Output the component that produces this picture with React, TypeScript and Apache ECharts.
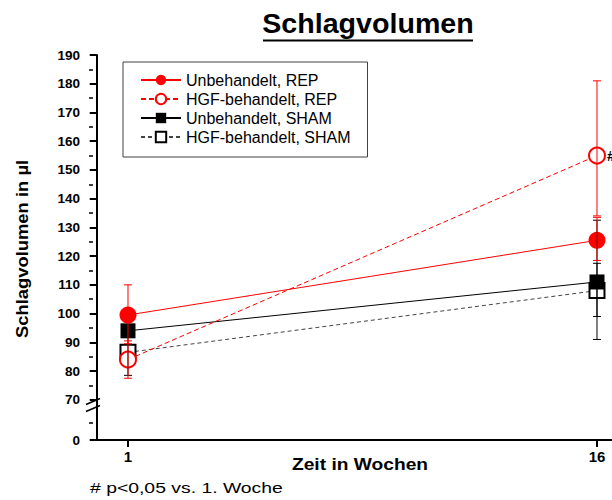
import { useEffect, useRef } from "react";
import * as echarts from "echarts";

// ---- data ----
const weeks = [1, 16];
const seriesNames = [
  "Unbehandelt, REP",
  "HGF-behandelt, REP",
  "Unbehandelt, SHAM",
  "HGF-behandelt, SHAM",
];
const unbehREP = [99.5, 125.5];
const unbehREPLow = [89.5, 118.5];
const unbehREPHigh = [110, 133.5];
const hgfREP = [84, 155];
const hgfREPLow = [77.5, 134];
const hgfREPHigh = [90.5, 181];
const unbehSHAM = [94, 111];
const unbehSHAMLow = [92, 91];
const unbehSHAMHigh = [96, 132.5];
const hgfSHAM = [86.5, 108];
const hgfSHAMLow = [78.5, 99];
const hgfSHAMHigh = [94.5, 117.5];
const yTickValues = [0, 70, 80, 90, 100, 110, 120, 130, 140, 150, 160, 170, 180, 190];
const yMinorTickValues = [30, 75, 85, 95, 105, 115, 125, 135, 145, 155, 165, 175, 185];
const xTickValues = [1, 16];
const breakValue = 61;
const sigMark = "#";
const titleText = "Schlagvolumen";
const yName = "Schlagvolumen in µl";
const xName = "Zeit in Wochen";
const footnote = "# p<0,05 vs. 1. Woche";

// broken axis: 0..70 compressed
const toAxis = (v: number) => (v < 70 ? v * 0.2 : v - 56);
const fromAxis = (d: number) => (d < 14 ? d / 0.2 : d + 56);

const FONT = "'Liberation Sans', Arial, sans-serif";
const X_MIN = -0.119;
const X_MAX = 16.48;

function errSeries(name: string, low: number[], high: number[], color: string) {
  return {
    name,
    type: "custom",
    z: 5,
    clip: false,
    silent: true,
    data: weeks.map((w, i) => [w, toAxis(low[i]), toAxis(high[i])]),
    renderItem: (_p: any, api: any) => {
      const x = api.value(0);
      const lo = api.coord([x, api.value(1)]);
      const hi = api.coord([x, api.value(2)]);
      const c = 4;
      const st = { stroke: color, lineWidth: 1 };
      return {
        type: "group",
        children: [
          { type: "line", shape: { x1: lo[0], y1: lo[1], x2: hi[0], y2: hi[1] }, style: st },
          { type: "line", shape: { x1: lo[0] - c, y1: lo[1], x2: lo[0] + c, y2: lo[1] }, style: st },
          { type: "line", shape: { x1: hi[0] - c, y1: hi[1], x2: hi[0] + c, y2: hi[1] }, style: st },
        ],
      };
    },
  };
}

export default function App() {
  const ref = useRef<HTMLDivElement>(null);
  useEffect(() => {
    document.body.style.margin = "0";
    if (!ref.current) return;
    const chart = echarts.init(ref.current, null, { renderer: "svg" });
    const pts = (vals: number[]) => weeks.map((w, i) => [w, toAxis(vals[i])]);
    chart.setOption({
      animation: false,
      backgroundColor: "#fff",
      textStyle: { fontFamily: FONT },
      grid: { left: 93, right: 0, top: 55, bottom: 60 },
      legend: {
        orient: "vertical",
        left: 123,
        top: 62,
        padding: [10, 17, 12, 17],
        itemWidth: 40,
        itemHeight: 13,
        itemGap: 3,
        borderColor: "#404040",
        borderWidth: 1,
        backgroundColor: "#fff",
        textStyle: { fontSize: 16, fontFamily: FONT, color: "#000", lineHeight: 16 },
        data: seriesNames,
      },
      xAxis: {
        type: "value",
        min: X_MIN,
        max: X_MAX,
        splitLine: { show: false },
        axisLine: { lineStyle: { color: "#000", width: 2 } },
        axisTick: { customValues: xTickValues, length: 7, lineStyle: { color: "#000", width: 2 } },
        axisLabel: {
          customValues: xTickValues,
          fontSize: 15,
          fontWeight: "bold",
          color: "#000",
          margin: 9,
          fontFamily: FONT,
        },
      },
      yAxis: [
        {
          type: "value",
          position: "left",
          min: 0,
          max: toAxis(190),
          splitLine: { show: false },
          axisLine: { show: true, lineStyle: { color: "#000", width: 2 } },
          axisTick: {
            customValues: yTickValues.map(toAxis),
            length: 7,
            lineStyle: { color: "#000", width: 2 },
          },
          axisLabel: {
            customValues: yTickValues.map(toAxis),
            formatter: (d: number) => String(Math.round(fromAxis(d))),
            fontSize: 13.5,
            fontWeight: "bold",
            color: "#000",
            margin: 13,
            fontFamily: FONT,
          },
        },
        {
          type: "value",
          position: "left",
          offset: 0,
          min: 0,
          max: toAxis(190),
          splitLine: { show: false },
          axisLine: { show: false },
          axisLabel: { show: false },
          axisTick: {
            customValues: yMinorTickValues.map(toAxis),
            length: 4,
            lineStyle: { color: "#000", width: 1.5 },
          },
        },
      ],
      series: [
        {
          name: seriesNames[3],
          type: "line",
          data: pts(hgfSHAM),
          symbol: "emptyRect",
          symbolSize: 15,
          itemStyle: { color: "#000", borderWidth: 1.5 },
          lineStyle: { color: "#444", width: 1, type: [4, 3] },
          silent: true,
        },
        {
          name: seriesNames[2],
          type: "line",
          data: pts(unbehSHAM),
          symbol: "rect",
          symbolSize: 15,
          itemStyle: { color: "#000" },
          lineStyle: { color: "#000", width: 1 },
          silent: true,
        },
        {
          name: seriesNames[1],
          type: "line",
          data: pts(hgfREP).map((p, i) =>
            i === 1
              ? {
                  value: p,
                  label: {
                    show: true,
                    position: "right",
                    distance: 1,
                    formatter: sigMark,
                    fontSize: 15,
                    fontWeight: "bold",
                    color: "#000",
                  },
                }
              : p
          ),
          symbol: "emptyCircle",
          symbolSize: 16,
          itemStyle: { color: "#f00", borderWidth: 1.5 },
          lineStyle: { color: "#f00", width: 1, type: [5, 3] },
          silent: true,
        },
        {
          name: seriesNames[0],
          type: "line",
          data: pts(unbehREP),
          symbol: "circle",
          symbolSize: 17,
          itemStyle: { color: "#f00" },
          lineStyle: { color: "#f00", width: 1 },
          silent: true,
        },
        errSeries("err3", hgfSHAMLow, hgfSHAMHigh, "#000"),
        errSeries("err2", unbehSHAMLow, unbehSHAMHigh, "#000"),
        errSeries("err1", hgfREPLow, hgfREPHigh, "#f00"),
        errSeries("err0", unbehREPLow, unbehREPHigh, "#f00"),
        {
          name: "axisBreak",
          type: "custom",
          z: 6,
          clip: false,
          silent: true,
          data: [[X_MIN, toAxis(breakValue)]],
          renderItem: (_p: any, api: any) => {
            const p = api.coord([api.value(0), api.value(1)]);
            const x = p[0];
            const y = p[1];
            const st = { stroke: "#000", lineWidth: 1.5 };
            return {
              type: "group",
              children: [
                { type: "rect", shape: { x: x - 2, y: y - 3.5, width: 4, height: 7 }, style: { fill: "#fff" } },
                { type: "line", shape: { x1: x - 7, y1: y - 0.5, x2: x + 7, y2: y - 6.5 }, style: st },
                { type: "line", shape: { x1: x - 7, y1: y + 6.5, x2: x + 7, y2: y + 0.5 }, style: st },
              ],
            };
          },
        },
      ],
      graphic: [
        {
          type: "text",
          x: 368,
          y: 24,
          scaleX: 1.06,
          style: {
            text: titleText,
            fontSize: 27,
            fontWeight: "bold",
            fontFamily: FONT,
            fill: "#000",
            align: "center",
            verticalAlign: "middle",
          },
        },
        {
          type: "line",
          shape: { x1: 263, y1: 40.5, x2: 473, y2: 40.5 },
          style: { stroke: "#000", lineWidth: 2 },
        },
        {
          type: "text",
          x: 360,
          y: 465,
          scaleX: 1.2,
          style: {
            text: xName,
            fontSize: 16,
            fontWeight: "bold",
            fontFamily: FONT,
            fill: "#000",
            align: "center",
            verticalAlign: "middle",
          },
        },
        {
          type: "text",
          x: 22,
          y: 249,
          rotation: Math.PI / 2,
          scaleX: 1.15,
          style: {
            text: yName,
            fontSize: 16,
            fontWeight: "bold",
            fontFamily: FONT,
            fill: "#000",
            align: "center",
            verticalAlign: "middle",
          },
        },
        {
          type: "text",
          x: 90,
          y: 488,
          scaleX: 1.25,
          style: {
            text: footnote,
            fontSize: 15.5,
            fontFamily: FONT,
            fill: "#000",
            align: "left",
            verticalAlign: "middle",
          },
        },
      ],
    });
    return () => chart.dispose();
  }, []);
  return <div ref={ref} style={{ width: 612, height: 500 }} />;
}
